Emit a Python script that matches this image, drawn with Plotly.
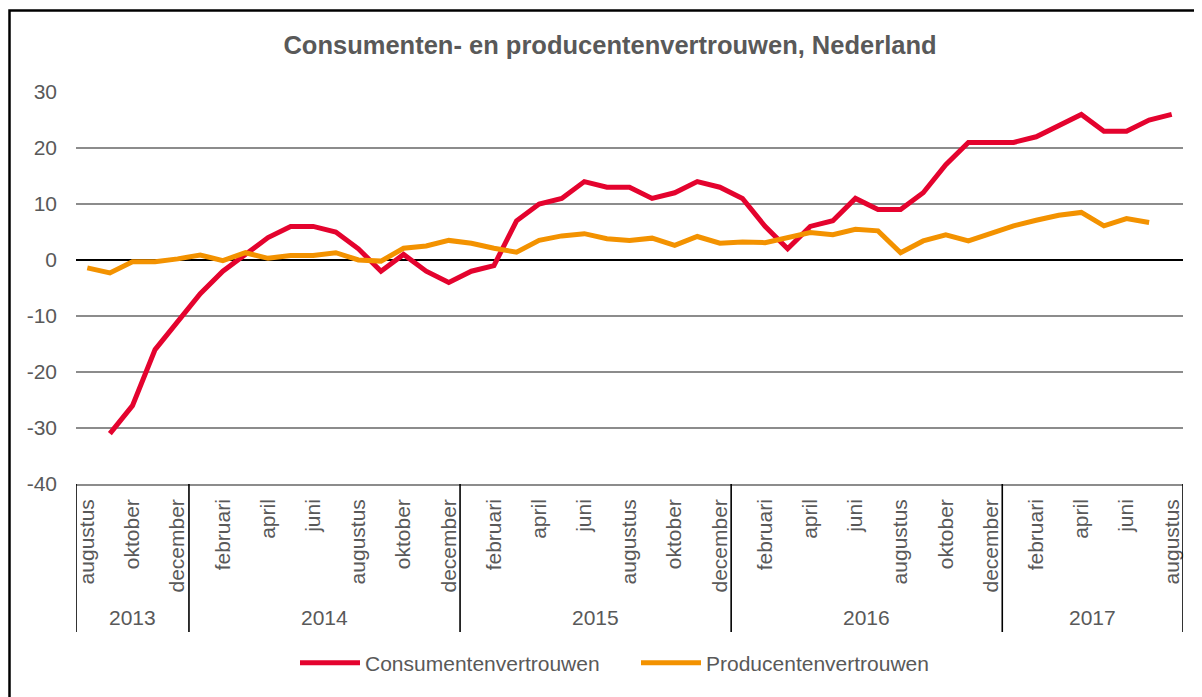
import plotly.graph_objects as go

# ---------------- data ----------------
years = [2013] * 5 + [2014] * 12 + [2015] * 12 + [2016] * 12 + [2017] * 8
month_names = ["januari", "februari", "maart", "april", "mei", "juni", "juli",
               "augustus", "september", "oktober", "november", "december"]
first_month = 8  # augustus 2013
months = [month_names[(first_month - 1 + i) % 12] for i in range(len(years))]

consumenten = [None, -31, -26, -16, -11,
               -6, -2, 1, 4, 6, 6, 5, 2, -2, 1, -2, -4,
               -2, -1, 7, 10, 11, 14, 13, 13, 11, 12, 14, 13,
               11, 6, 2, 6, 7, 11, 9, 9, 12, 17, 21, 21,
               21, 22, 24, 26, 23, 23, 25, 26]

producenten = [-1.4, -2.3, -0.3, -0.3, 0.2,
               0.9, -0.1, 1.3, 0.3, 0.8, 0.8, 1.3, 0.0, -0.2, 2.1, 2.5, 3.5,
               3.0, 2.1, 1.4, 3.5, 4.3, 4.7, 3.8, 3.5, 3.9, 2.6, 4.2, 3.0,
               3.2, 3.1, 4.0, 4.9, 4.5, 5.5, 5.2, 1.3, 3.4, 4.5, 3.4, 4.8,
               6.1, 7.1, 8.0, 8.5, 6.1, 7.4, 6.7, None]

y_ticks = [-40, -30, -20, -10, 0, 10, 20, 30]
y_ticktext = [str(v) for v in y_ticks]
title_text = "Consumenten- en producentenvertrouwen, Nederland"

# ---------------- figure geometry ----------------
OFF = 8  # page body margin
W, H = 1202 - OFF, 697 - OFF
PL, PR, PT, PB = 76, 1183, 92, 484  # plot area in window pixels
L, T = PL - OFF, PT - OFF
R = W - (PR - OFF)
B = H - (PB - OFF)
plot_w = PR - PL
plot_h = PB - PT

FONT = "Liberation Sans, Arial, sans-serif"
GREY_TXT = "#595959"


def py_paper(py):
    return (PB - py) / plot_h


def px_paper(px):
    return (px - PL) / plot_w


idx = list(range(len(years)))

fig = go.Figure()
fig.add_trace(go.Scatter(x=idx, y=consumenten, mode="lines", name="Consumentenvertrouwen",
                         line=dict(color="#E4032E", width=5), connectgaps=False))
fig.add_trace(go.Scatter(x=idx, y=producenten, mode="lines", name="Producentenvertrouwen",
                         line=dict(color="#F39200", width=5), connectgaps=False))

tickvals = [i for i in idx if i % 2 == 0]
ticktext = [months[i] for i in tickvals]

groups = []
start = 0
for i in range(1, len(years) + 1):
    if i == len(years) or years[i] != years[start]:
        groups.append((years[start], start, i - 1))
        start = i

shapes = []
bounds = [g[1] - 0.5 for g in groups] + [groups[-1][2] + 0.5]
for b in bounds:
    shapes.append(dict(type="line", xref="x", yref="paper", x0=b, x1=b, y0=0, y1=py_paper(632),
                       line=dict(color="#000000", width=1.6)))

shapes.append(dict(type="rect", xref="paper", yref="paper",
                   x0=px_paper(9.5), x1=px_paper(1230),
                   y0=py_paper(730), y1=py_paper(10.5),
                   line=dict(color="#000000", width=2.5), fillcolor="rgba(0,0,0,0)", layer="below"))

annotations = []
for yr, a, b in groups:
    annotations.append(dict(text=str(yr), xref="x", yref="paper", x=(a + b) / 2,
                            y=py_paper(617), showarrow=False, yanchor="middle",
                            font=dict(family=FONT, size=21, color=GREY_TXT)))

fig.update_layout(
    width=W, height=H,
    margin=dict(l=L, r=R, t=T, b=B, pad=0),
    paper_bgcolor="white", plot_bgcolor="white",
    font=dict(family=FONT, size=21, color=GREY_TXT),
    title=dict(text="<b>" + title_text + "</b>", x=(610 - OFF) / W, xanchor="center",
               y=1 - (45 - OFF) / H, yanchor="middle",
               font=dict(family=FONT, size=25.5, color=GREY_TXT)),
    showlegend=True,
    legend=dict(orientation="h", x=px_paper(295), xanchor="left",
                y=py_paper(663), yanchor="middle", itemwidth=60,
                entrywidth=266, entrywidthmode="pixels",
                font=dict(family=FONT, size=21, color=GREY_TXT), bgcolor="rgba(0,0,0,0)"),
    shapes=shapes,
    annotations=annotations,
)

fig.update_xaxes(range=[-0.5, len(years) - 0.5], tickvals=tickvals, ticktext=ticktext,
                 tickangle=-90, showgrid=False, zeroline=False, showline=True,
                 linecolor="#8C8C8C", linewidth=1.5, ticks="", ticklabelstandoff=5,
                 tickfont=dict(family=FONT, size=21, color=GREY_TXT), fixedrange=True)
fig.update_yaxes(range=[-40, 30], tickvals=y_ticks, ticktext=y_ticktext, showgrid=True,
                 gridcolor="#8C8C8C", gridwidth=1.5, zeroline=True, zerolinecolor="#000000",
                 zerolinewidth=1.6, showline=False, ticks="", ticklabelstandoff=18,
                 tickfont=dict(family=FONT, size=21, color=GREY_TXT), fixedrange=True)

fig.write_html("out.html")
